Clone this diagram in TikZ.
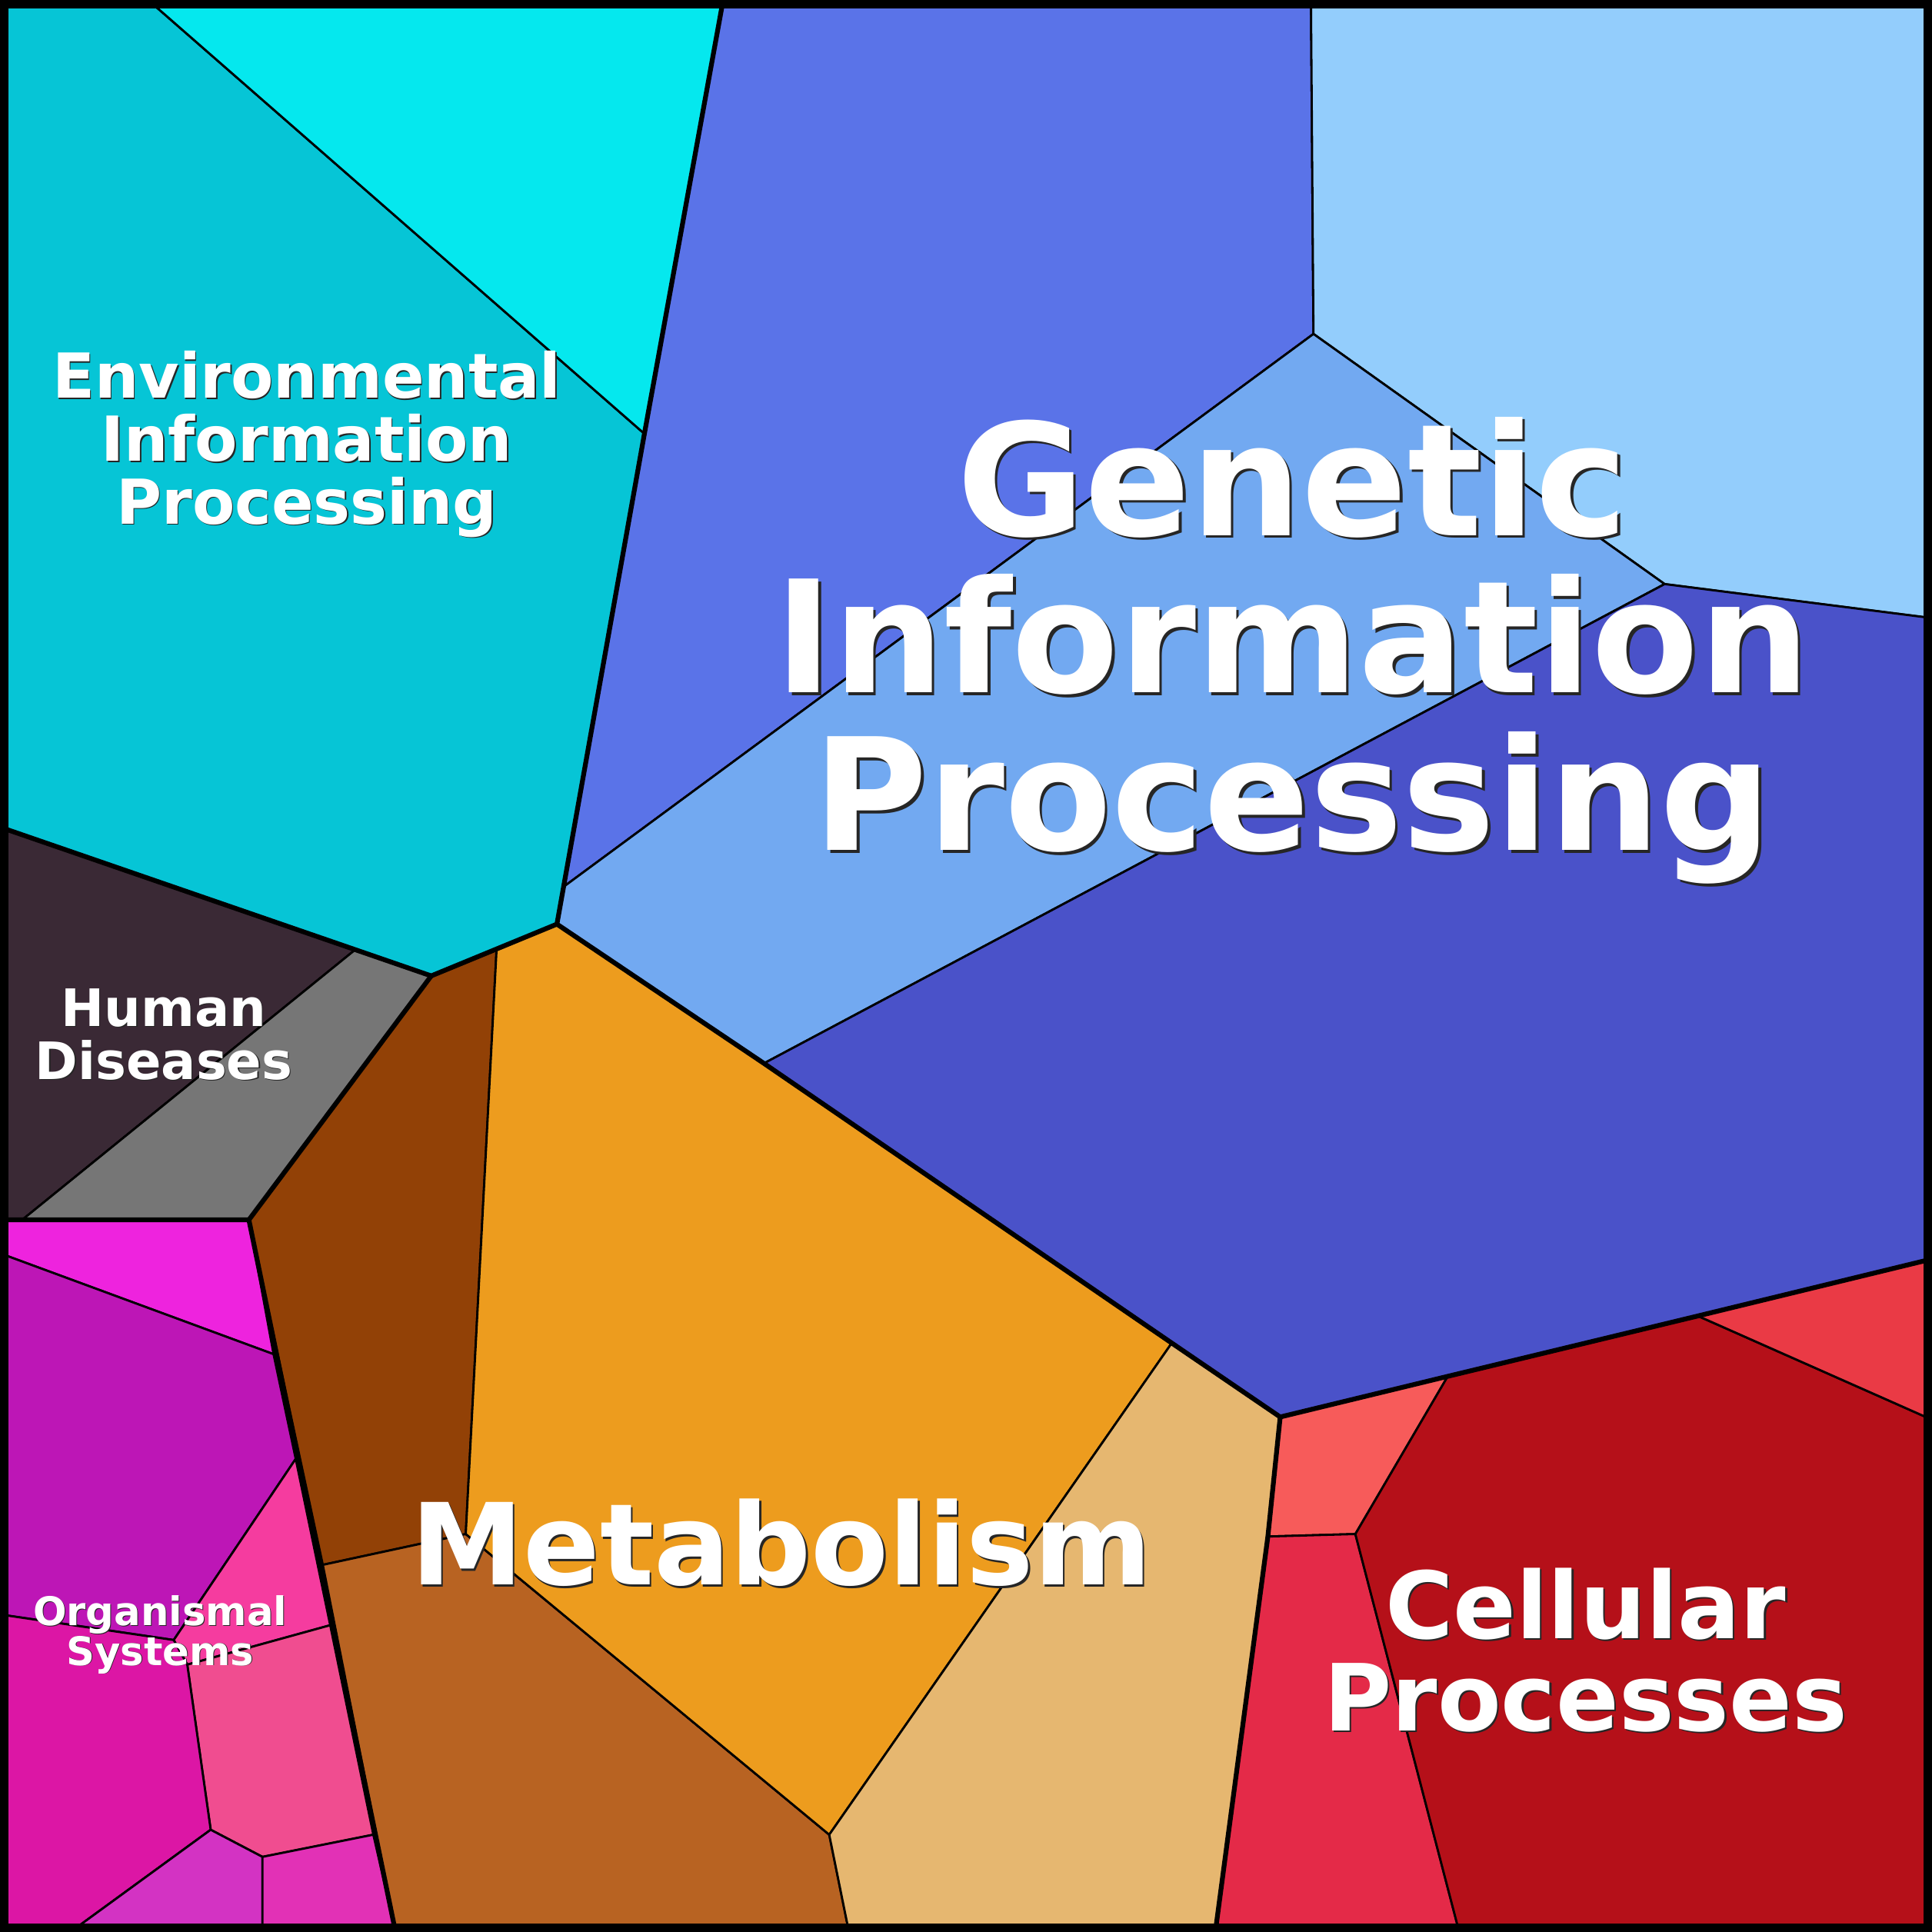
\documentclass[tikz,border=0pt]{standalone}
\usepackage{fontspec}
\setmainfont{DejaVu Sans}
\usepackage{tikz}

\definecolor{envA}{HTML}{06C5D6}
\definecolor{envB}{HTML}{05E8EE}
\definecolor{genA}{HTML}{5A73E8}
\definecolor{genB}{HTML}{93CDFC}
\definecolor{genC}{HTML}{72A9F1}
\definecolor{genD}{HTML}{4A52C9}
\definecolor{humA}{HTML}{3A2935}
\definecolor{humB}{HTML}{767676}
\definecolor{metA}{HTML}{924106}
\definecolor{metB}{HTML}{B86322}
\definecolor{metC}{HTML}{ED9C1E}
\definecolor{metD}{HTML}{E6B770}
\definecolor{celA}{HTML}{F75B5A}
\definecolor{celB}{HTML}{E42A48}
\definecolor{celC}{HTML}{B51019}
\definecolor{celD}{HTML}{EA3A45}
\definecolor{orgA}{HTML}{EE23DE}
\definecolor{orgB}{HTML}{BD16B6}
\definecolor{orgC}{HTML}{F53C9F}
\definecolor{orgD}{HTML}{F04D90}
\definecolor{orgE}{HTML}{DC16A5}
\definecolor{orgF}{HTML}{D333C3}
\definecolor{orgG}{HTML}{E231B6}

\newcommand\sh[1]{\rlap{\kern0.018em\raisebox{-0.018em}{\color{black!85}#1}}#1}

\tikzset{
  cell/.style={draw=black,line width=0.5pt,line join=round},
  top/.style={draw=black,line width=1.1pt,line join=round},
  lbl/.style={text=white,align=center,inner sep=0pt}
}

\begin{document}
\begin{tikzpicture}[x=0.01cm,y=-0.01cm]
    \useasboundingbox (0,0) rectangle (1568,1568);
    % Environmental Information Processing
    \filldraw[cell,fill=envA] (5,5)--(126,5)--(523,352)--(452,750)--(350,792)--(5,673)--cycle;
    \filldraw[cell,fill=envB] (126,5)--(586,5)--(523,352)--cycle;
    % Genetic Information Processing
    \filldraw[cell,fill=genA] (586,5)--(1064,5)--(1066,271)--(457,720)--(523,352)--cycle;
    \filldraw[cell,fill=genB] (1064,5)--(1563,5)--(1563,501)--(1351,474)--(1066,271)--cycle;
    \filldraw[cell,fill=genC] (1066,271)--(1351,474)--(620,863)--(452,750)--(457,720)--cycle;
    \filldraw[cell,fill=genD] (1351,474)--(1563,501)--(1563,1023)--(1039,1150)--(951,1090)--(620,863)--cycle;
    % Human Diseases
    \filldraw[cell,fill=humA] (5,673)--(288,771)--(18,990)--(5,990)--cycle;
    \filldraw[cell,fill=humB] (288,771)--(350,792)--(202,990)--(18,990)--cycle;
    % Metabolism
    \filldraw[cell,fill=metA] (350,792)--(403,771)--(378,1245)--(262,1270)--(202,990)--cycle;
    \filldraw[cell,fill=metB] (262,1270)--(378,1245)--(673,1489)--(688,1563)--(320,1563)--cycle;
    \filldraw[cell,fill=metC] (403,771)--(452,750)--(620,863)--(951,1090)--(673,1489)--(378,1245)--cycle;
    \filldraw[cell,fill=metD] (951,1090)--(1039,1150)--(1029,1247)--(987,1563)--(688,1563)--(673,1489)--cycle;
    % Cellular Processes
    \filldraw[cell,fill=celA] (1039,1150)--(1175,1117)--(1100,1245)--(1029,1247)--cycle;
    \filldraw[cell,fill=celB] (1029,1247)--(1100,1245)--(1183,1563)--(987,1563)--cycle;
    \filldraw[cell,fill=celC] (1175,1117)--(1378,1068)--(1563,1150)--(1563,1563)--(1183,1563)--(1100,1245)--cycle;
    \filldraw[cell,fill=celD] (1378,1068)--(1563,1023)--(1563,1150)--cycle;
    % Organismal Systems
    \filldraw[cell,fill=orgA] (5,990)--(202,990)--(222,1099)--(5,1019)--cycle;
    \filldraw[cell,fill=orgB] (5,1019)--(222,1099)--(240,1184)--(141,1331)--(5,1311)--cycle;
    \filldraw[cell,fill=orgC] (240,1184)--(268,1319)--(152,1351)--(141,1331)--cycle;
    \filldraw[cell,fill=orgD] (152,1351)--(268,1319)--(303,1489)--(213,1507)--(171,1485)--cycle;
    \filldraw[cell,fill=orgE] (5,1311)--(141,1331)--(152,1351)--(171,1485)--(64,1563)--(5,1563)--cycle;
    \filldraw[cell,fill=orgF] (64,1563)--(171,1485)--(213,1507)--(213,1563)--cycle;
    \filldraw[cell,fill=orgG] (213,1507)--(303,1489)--(320,1563)--(213,1563)--cycle;
    % category borders
    \draw[top] (586,5)--(523,352)--(452,750)--(350,792)--(5,673);
    \draw[top] (452,750)--(620,863)--(951,1090)--(1039,1150)--(1175,1117)--(1378,1068)--(1563,1023);
    \draw[top] (350,792)--(202,990)--(5,990);
    \draw[top] (202,990)--(320,1563);
    \draw[top] (1039,1150)--(1029,1247)--(987,1563);
    \draw[line width=2pt] (3.5,3.5) rectangle (1564.5,1564.5);
    % labels
    \node[lbl,font=\bfseries\fontsize{14.3}{14.5}\selectfont] (env) at (249,361) {\sh{Environmental}\\\sh{Information}\\\sh{Processing}};
    \node[lbl,font=\bfseries\fontsize{36}{36.3}\selectfont] (gen) at (1049,529) {\sh{Genetic}\\\sh{Information}\\\sh{Processing}};
    \node[lbl,font=\bfseries\fontsize{11.9}{12.2}\selectfont] (hum) at (133,840) {\sh{Human}\\\sh{Diseases}};
    \node[lbl,font=\bfseries\fontsize{9.1}{9.1}\selectfont] (org) at (130,1327) {\sh{Organismal}\\\sh{Systems}};
    \node[lbl,font=\bfseries\fontsize{26.1}{26}\selectfont] (met) at (634,1253) {\sh{Metabolism}};
    \node[lbl,font=\bfseries\fontsize{21.4}{21.3}\selectfont] (cel) at (1287,1340) {\sh{Cellular}\\\sh{Processes}};
\end{tikzpicture}
\end{document}
